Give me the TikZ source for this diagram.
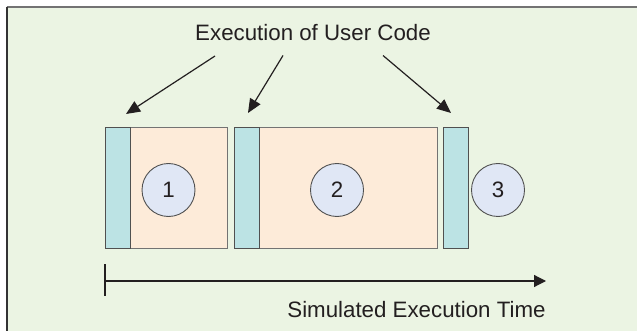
\documentclass[tikz,border=0pt]{standalone}
\usepackage{fontspec}
\setmainfont{Liberation Sans}
\usetikzlibrary{arrows.meta}
\definecolor{bgc}{HTML}{EBF4E3}
\definecolor{cyanc}{HTML}{BCE3E4}
\definecolor{peachc}{HTML}{FDEBD9}
\definecolor{circc}{HTML}{E0E7F5}
\definecolor{edgec}{HTML}{505050}
\definecolor{txtc}{HTML}{231F20}
\tikzset{
  lbl/.style={font=\fontsize{22.3}{26}\selectfont, text=txtc, inner sep=0pt},
  cyanbox/.style={draw=edgec, fill=cyanc, line width=1pt, minimum width=25pt, minimum height=121pt, inner sep=0pt, anchor=north west},
  peachbox/.style={draw=edgec!80, fill=peachc, line width=1pt, minimum height=121pt, inner sep=0pt, anchor=north west},
  numcirc/.style={circle, draw=edgec, fill=circc, line width=0.9pt, minimum size=53pt, inner sep=0pt, font=\fontsize{22.3}{26}\selectfont, text=txtc},
  ptr/.style={draw=txtc, line width=1.2pt, -{Triangle[length=14pt,width=12pt]}},
  axis/.style={draw=txtc, line width=1.2pt, -{Triangle[length=12pt,width=12pt]}}
}
\begin{document}
\begin{tikzpicture}[x=1pt,y=-1pt]
\useasboundingbox (0,0) rectangle (637,331);
\fill[white] (0,0) rectangle (637,331);
\fill[bgc] (6.5,7) rectangle (637,331);
\draw[line width=1.6pt, color=black!55] (6.5,7.3) -- (637,7.3);
\draw[line width=1.6pt, color=black!80] (7,7) -- (7,331);
% title
\node[lbl, anchor=base] (title) at (313,40.7) {Execution of User Code};
% blocks
\node[peachbox, minimum width=96.5pt] (p1) at (130,127) {};
\node[cyanbox] (c1) at (105,127) {};
\node[peachbox, minimum width=178pt] (p2) at (259,127) {};
\node[cyanbox] (c2) at (234,127) {};
\node[cyanbox] (c3) at (443,127) {};
% circles
\node[numcirc] (n1) at (168.5,190) {1};
\node[numcirc] (n2) at (337,190) {2};
\node[numcirc] (n3) at (498,190) {3};
% pointer arrows
\coordinate (s1) at (215,56);
\coordinate (s2) at (283,55.5);
\coordinate (s3) at (383,55.5);
\coordinate (t1) at (126,114);
\coordinate (t2) at (248,113);
\coordinate (t3) at (451,113);
\draw[ptr] (s1) -- (t1);
\draw[ptr] (s2) -- (t2);
\draw[ptr] (s3) -- (t3);
% time axis
\coordinate (a0) at (105,281);
\coordinate (a1) at (546,281);
\coordinate (k0) at (105,264);
\coordinate (k1) at (105,296);
\draw[axis] (a0) -- (a1);
\draw[draw=txtc, line width=1.2pt] (k0) -- (k1);
\node[lbl, anchor=base] (tlabel) at (416.5,317.5) {Simulated Execution Time};
\end{tikzpicture}
\end{document}
